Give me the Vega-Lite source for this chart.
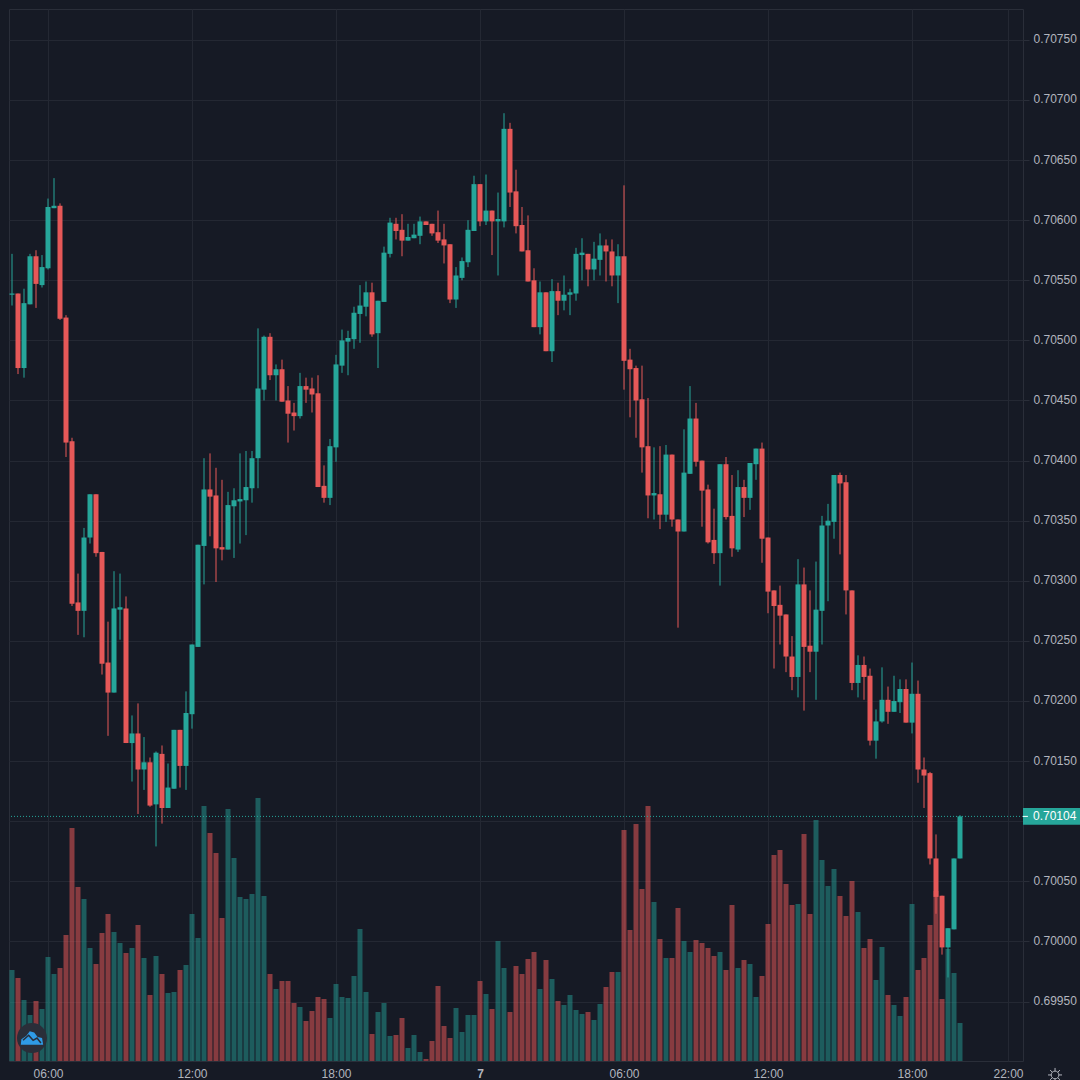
{"$schema":"https://vega.github.io/schema/vega-lite/v6.json","width":1014,"height":1052,"autosize":"none","padding":{"left":9,"top":9,"right":57,"bottom":19},"background":"#161a25","view":{"fill":"#161a25","stroke":"#2a2e39","strokeWidth":1},
"data":{"values":[
{"t":4.5,"o":0.70538,"h":0.70572,"l":0.70529,"c":0.70539,"v":91,"d":"up"},
{"t":4.75,"o":0.70539,"h":0.70539,"l":0.70472,"c":0.70477,"v":83,"d":"down"},
{"t":5,"o":0.70477,"h":0.70543,"l":0.70469,"c":0.70531,"v":61,"d":"up"},
{"t":5.25,"o":0.7053,"h":0.70572,"l":0.7053,"c":0.7057,"v":46,"d":"up"},
{"t":5.5,"o":0.7057,"h":0.70575,"l":0.70527,"c":0.70547,"v":60,"d":"down"},
{"t":5.75,"o":0.70546,"h":0.70571,"l":0.70544,"c":0.70561,"v":52,"d":"up"},
{"t":6,"o":0.7056,"h":0.70618,"l":0.70559,"c":0.70611,"v":104,"d":"up"},
{"t":6.25,"o":0.7061,"h":0.70635,"l":0.7061,"c":0.70612,"v":87,"d":"up"},
{"t":6.5,"o":0.70612,"h":0.70614,"l":0.70517,"c":0.70518,"v":93,"d":"down"},
{"t":6.75,"o":0.70519,"h":0.70521,"l":0.70403,"c":0.70415,"v":126,"d":"down"},
{"t":7,"o":0.70416,"h":0.70419,"l":0.70279,"c":0.70281,"v":233,"d":"down"},
{"t":7.25,"o":0.70282,"h":0.70306,"l":0.70255,"c":0.70275,"v":174,"d":"down"},
{"t":7.5,"o":0.70275,"h":0.70344,"l":0.70253,"c":0.70336,"v":162,"d":"up"},
{"t":7.75,"o":0.70336,"h":0.70372,"l":0.70331,"c":0.70372,"v":113,"d":"up"},
{"t":8,"o":0.70372,"h":0.70372,"l":0.7032,"c":0.70323,"v":97,"d":"down"},
{"t":8.25,"o":0.70324,"h":0.70324,"l":0.70222,"c":0.70231,"v":128,"d":"down"},
{"t":8.5,"o":0.70232,"h":0.70266,"l":0.70171,"c":0.70207,"v":147,"d":"down"},
{"t":8.75,"o":0.70207,"h":0.70308,"l":0.70207,"c":0.70277,"v":129,"d":"up"},
{"t":9,"o":0.70276,"h":0.70306,"l":0.70251,"c":0.70278,"v":118,"d":"up"},
{"t":9.25,"o":0.70277,"h":0.70287,"l":0.70165,"c":0.70165,"v":108,"d":"down"},
{"t":9.5,"o":0.70165,"h":0.70188,"l":0.70133,"c":0.70173,"v":113,"d":"up"},
{"t":9.75,"o":0.70173,"h":0.70198,"l":0.70106,"c":0.70143,"v":136,"d":"down"},
{"t":10,"o":0.70143,"h":0.7017,"l":0.70126,"c":0.70149,"v":103,"d":"up"},
{"t":10.25,"o":0.70149,"h":0.70153,"l":0.70112,"c":0.70113,"v":66,"d":"down"},
{"t":10.5,"o":0.70114,"h":0.70158,"l":0.70079,"c":0.70157,"v":105,"d":"up"},
{"t":10.75,"o":0.70156,"h":0.70163,"l":0.70098,"c":0.70111,"v":87,"d":"down"},
{"t":11,"o":0.70111,"h":0.70148,"l":0.70111,"c":0.70128,"v":68,"d":"up"},
{"t":11.25,"o":0.70127,"h":0.70176,"l":0.70127,"c":0.70176,"v":69,"d":"up"},
{"t":11.5,"o":0.70176,"h":0.70176,"l":0.70128,"c":0.70146,"v":91,"d":"down"},
{"t":11.75,"o":0.70146,"h":0.70208,"l":0.70126,"c":0.7019,"v":96,"d":"up"},
{"t":12,"o":0.70189,"h":0.70247,"l":0.70177,"c":0.70247,"v":147,"d":"up"},
{"t":12.25,"o":0.70245,"h":0.7033,"l":0.70245,"c":0.7033,"v":123,"d":"up"},
{"t":12.5,"o":0.70329,"h":0.70402,"l":0.70297,"c":0.70376,"v":255,"d":"up"},
{"t":12.75,"o":0.70376,"h":0.70406,"l":0.70337,"c":0.7037,"v":228,"d":"down"},
{"t":13,"o":0.70371,"h":0.70394,"l":0.70299,"c":0.70327,"v":208,"d":"down"},
{"t":13.25,"o":0.70328,"h":0.70384,"l":0.70317,"c":0.70326,"v":143,"d":"down"},
{"t":13.5,"o":0.70326,"h":0.70374,"l":0.70326,"c":0.70363,"v":252,"d":"up"},
{"t":13.75,"o":0.70362,"h":0.70377,"l":0.70319,"c":0.70367,"v":203,"d":"up"},
{"t":14,"o":0.70366,"h":0.70406,"l":0.70331,"c":0.70368,"v":164,"d":"up"},
{"t":14.25,"o":0.70367,"h":0.70408,"l":0.70338,"c":0.70378,"v":162,"d":"up"},
{"t":14.5,"o":0.70377,"h":0.70408,"l":0.70365,"c":0.70402,"v":167,"d":"up"},
{"t":14.75,"o":0.70402,"h":0.7051,"l":0.70377,"c":0.7046,"v":263,"d":"up"},
{"t":15,"o":0.70459,"h":0.70504,"l":0.7045,"c":0.70503,"v":165,"d":"up"},
{"t":15.25,"o":0.70503,"h":0.70506,"l":0.70467,"c":0.70471,"v":87,"d":"down"},
{"t":15.5,"o":0.70471,"h":0.7048,"l":0.7045,"c":0.70476,"v":72,"d":"up"},
{"t":15.75,"o":0.70476,"h":0.70484,"l":0.70449,"c":0.70449,"v":80,"d":"down"},
{"t":16,"o":0.7045,"h":0.70462,"l":0.70415,"c":0.70439,"v":80,"d":"down"},
{"t":16.25,"o":0.7044,"h":0.70448,"l":0.70425,"c":0.70437,"v":58,"d":"down"},
{"t":16.5,"o":0.70437,"h":0.70473,"l":0.70435,"c":0.70462,"v":54,"d":"up"},
{"t":16.75,"o":0.70462,"h":0.70469,"l":0.70448,"c":0.70459,"v":40,"d":"down"},
{"t":17,"o":0.7046,"h":0.70469,"l":0.7044,"c":0.70455,"v":50,"d":"down"},
{"t":17.25,"o":0.70456,"h":0.70471,"l":0.70378,"c":0.70378,"v":64,"d":"down"},
{"t":17.5,"o":0.70379,"h":0.70396,"l":0.70365,"c":0.70369,"v":62,"d":"down"},
{"t":17.75,"o":0.70369,"h":0.70418,"l":0.70363,"c":0.70412,"v":43,"d":"up"},
{"t":18,"o":0.70411,"h":0.70488,"l":0.70399,"c":0.7048,"v":77,"d":"up"},
{"t":18.25,"o":0.70479,"h":0.70509,"l":0.70473,"c":0.705,"v":64,"d":"up"},
{"t":18.5,"o":0.70499,"h":0.70508,"l":0.70471,"c":0.70502,"v":63,"d":"up"},
{"t":18.75,"o":0.70501,"h":0.70528,"l":0.70493,"c":0.70523,"v":85,"d":"up"},
{"t":19,"o":0.70522,"h":0.70546,"l":0.70498,"c":0.70529,"v":132,"d":"up"},
{"t":19.25,"o":0.70528,"h":0.70549,"l":0.7052,"c":0.7054,"v":69,"d":"up"},
{"t":19.5,"o":0.7054,"h":0.70548,"l":0.70503,"c":0.70505,"v":27,"d":"down"},
{"t":19.75,"o":0.70506,"h":0.70533,"l":0.70477,"c":0.70533,"v":49,"d":"up"},
{"t":20,"o":0.70532,"h":0.70578,"l":0.70532,"c":0.70573,"v":58,"d":"up"},
{"t":20.25,"o":0.70572,"h":0.70602,"l":0.70569,"c":0.70598,"v":25,"d":"up"},
{"t":20.5,"o":0.70597,"h":0.70602,"l":0.70584,"c":0.70591,"v":26,"d":"down"},
{"t":20.75,"o":0.70592,"h":0.70605,"l":0.7057,"c":0.70583,"v":43,"d":"down"},
{"t":21,"o":0.70583,"h":0.70597,"l":0.70583,"c":0.70586,"v":13,"d":"up"},
{"t":21.25,"o":0.70585,"h":0.70597,"l":0.70585,"c":0.70588,"v":26,"d":"up"},
{"t":21.5,"o":0.70587,"h":0.70603,"l":0.7058,"c":0.70599,"v":9,"d":"up"},
{"t":21.75,"o":0.70599,"h":0.70599,"l":0.70596,"c":0.70596,"v":2,"d":"down"},
{"t":22,"o":0.70597,"h":0.70597,"l":0.70587,"c":0.70589,"v":20,"d":"down"},
{"t":22.25,"o":0.7059,"h":0.70608,"l":0.70581,"c":0.70583,"v":75,"d":"down"},
{"t":22.5,"o":0.70584,"h":0.70597,"l":0.70564,"c":0.70579,"v":35,"d":"down"},
{"t":22.75,"o":0.7058,"h":0.7058,"l":0.70531,"c":0.70534,"v":23,"d":"down"},
{"t":23,"o":0.70534,"h":0.70561,"l":0.70527,"c":0.70554,"v":53,"d":"up"},
{"t":23.25,"o":0.70552,"h":0.70569,"l":0.7055,"c":0.70566,"v":29,"d":"up"},
{"t":23.5,"o":0.70565,"h":0.706,"l":0.70561,"c":0.70592,"v":46,"d":"up"},
{"t":23.75,"o":0.70591,"h":0.70637,"l":0.70591,"c":0.7063,"v":46,"d":"up"},
{"t":24,"o":0.7063,"h":0.7063,"l":0.70595,"c":0.70599,"v":80,"d":"down"},
{"t":24.25,"o":0.70599,"h":0.70638,"l":0.70596,"c":0.70608,"v":67,"d":"up"},
{"t":24.5,"o":0.70608,"h":0.70608,"l":0.70571,"c":0.70599,"v":52,"d":"down"},
{"t":24.75,"o":0.70599,"h":0.70623,"l":0.70554,"c":0.70601,"v":120,"d":"up"},
{"t":25,"o":0.70599,"h":0.70689,"l":0.70594,"c":0.70676,"v":93,"d":"up"},
{"t":25.25,"o":0.70676,"h":0.70681,"l":0.70611,"c":0.70623,"v":49,"d":"down"},
{"t":25.5,"o":0.70624,"h":0.70642,"l":0.70589,"c":0.70595,"v":95,"d":"down"},
{"t":25.75,"o":0.70596,"h":0.70611,"l":0.70574,"c":0.70574,"v":87,"d":"down"},
{"t":26,"o":0.70575,"h":0.70604,"l":0.70549,"c":0.70549,"v":102,"d":"down"},
{"t":26.25,"o":0.7055,"h":0.7056,"l":0.70511,"c":0.70511,"v":109,"d":"down"},
{"t":26.5,"o":0.70511,"h":0.70549,"l":0.70505,"c":0.7054,"v":72,"d":"up"},
{"t":26.75,"o":0.7054,"h":0.7054,"l":0.70491,"c":0.70491,"v":101,"d":"down"},
{"t":27,"o":0.70491,"h":0.70551,"l":0.70482,"c":0.70541,"v":82,"d":"up"},
{"t":27.25,"o":0.70541,"h":0.70548,"l":0.70521,"c":0.70533,"v":60,"d":"down"},
{"t":27.5,"o":0.70533,"h":0.70554,"l":0.70525,"c":0.70538,"v":56,"d":"up"},
{"t":27.75,"o":0.70538,"h":0.70543,"l":0.70521,"c":0.7054,"v":66,"d":"up"},
{"t":28,"o":0.70539,"h":0.70577,"l":0.70533,"c":0.70572,"v":51,"d":"up"},
{"t":28.25,"o":0.70571,"h":0.70585,"l":0.7055,"c":0.70573,"v":47,"d":"up"},
{"t":28.5,"o":0.70572,"h":0.70572,"l":0.70545,"c":0.70559,"v":49,"d":"down"},
{"t":28.75,"o":0.70559,"h":0.70582,"l":0.7055,"c":0.70568,"v":41,"d":"up"},
{"t":29,"o":0.70567,"h":0.70589,"l":0.70554,"c":0.70579,"v":57,"d":"up"},
{"t":29.25,"o":0.70579,"h":0.70584,"l":0.70549,"c":0.70574,"v":74,"d":"down"},
{"t":29.5,"o":0.70574,"h":0.70584,"l":0.70545,"c":0.70554,"v":89,"d":"down"},
{"t":29.75,"o":0.70554,"h":0.7058,"l":0.70531,"c":0.7057,"v":89,"d":"up"},
{"t":30,"o":0.7057,"h":0.70629,"l":0.70459,"c":0.70483,"v":231,"d":"down"},
{"t":30.25,"o":0.70484,"h":0.70493,"l":0.70436,"c":0.70476,"v":131,"d":"down"},
{"t":30.5,"o":0.70477,"h":0.70479,"l":0.70419,"c":0.7045,"v":237,"d":"down"},
{"t":30.75,"o":0.70451,"h":0.70479,"l":0.7039,"c":0.70411,"v":172,"d":"down"},
{"t":31,"o":0.70412,"h":0.70452,"l":0.70352,"c":0.70371,"v":255,"d":"down"},
{"t":31.25,"o":0.70371,"h":0.70411,"l":0.70351,"c":0.70373,"v":159,"d":"up"},
{"t":31.5,"o":0.70372,"h":0.70412,"l":0.70343,"c":0.70355,"v":122,"d":"down"},
{"t":31.75,"o":0.70355,"h":0.70413,"l":0.70349,"c":0.70405,"v":103,"d":"up"},
{"t":32,"o":0.70405,"h":0.70405,"l":0.70345,"c":0.70351,"v":103,"d":"down"},
{"t":32.25,"o":0.70351,"h":0.70351,"l":0.70261,"c":0.70341,"v":153,"d":"down"},
{"t":32.5,"o":0.70341,"h":0.70426,"l":0.70341,"c":0.7039,"v":120,"d":"up"},
{"t":32.75,"o":0.70389,"h":0.70462,"l":0.70389,"c":0.70435,"v":109,"d":"up"},
{"t":33,"o":0.70435,"h":0.70448,"l":0.70395,"c":0.70399,"v":121,"d":"down"},
{"t":33.25,"o":0.704,"h":0.704,"l":0.70345,"c":0.70375,"v":118,"d":"down"},
{"t":33.5,"o":0.70376,"h":0.7038,"l":0.70331,"c":0.70332,"v":113,"d":"down"},
{"t":33.75,"o":0.70334,"h":0.7036,"l":0.70314,"c":0.70323,"v":105,"d":"down"},
{"t":34,"o":0.70323,"h":0.70397,"l":0.70296,"c":0.70397,"v":109,"d":"up"},
{"t":34.25,"o":0.70397,"h":0.70403,"l":0.70351,"c":0.70353,"v":91,"d":"down"},
{"t":34.5,"o":0.70354,"h":0.70388,"l":0.7032,"c":0.70327,"v":156,"d":"down"},
{"t":34.75,"o":0.70326,"h":0.70392,"l":0.70324,"c":0.70378,"v":93,"d":"up"},
{"t":35,"o":0.70378,"h":0.70384,"l":0.70353,"c":0.70369,"v":101,"d":"down"},
{"t":35.25,"o":0.70369,"h":0.70398,"l":0.70359,"c":0.70398,"v":97,"d":"up"},
{"t":35.5,"o":0.70397,"h":0.7041,"l":0.70384,"c":0.7041,"v":64,"d":"up"},
{"t":35.75,"o":0.7041,"h":0.70415,"l":0.70315,"c":0.70335,"v":85,"d":"down"},
{"t":36,"o":0.70336,"h":0.70336,"l":0.70273,"c":0.70291,"v":137,"d":"down"},
{"t":36.25,"o":0.70292,"h":0.70292,"l":0.70227,"c":0.70279,"v":206,"d":"down"},
{"t":36.5,"o":0.7028,"h":0.70296,"l":0.70247,"c":0.70271,"v":211,"d":"down"},
{"t":36.75,"o":0.70272,"h":0.70272,"l":0.70224,"c":0.70237,"v":177,"d":"down"},
{"t":37,"o":0.70237,"h":0.70254,"l":0.70209,"c":0.7022,"v":156,"d":"down"},
{"t":37.25,"o":0.7022,"h":0.70318,"l":0.70203,"c":0.70297,"v":157,"d":"up"},
{"t":37.5,"o":0.70297,"h":0.70311,"l":0.70192,"c":0.70245,"v":227,"d":"down"},
{"t":37.75,"o":0.70246,"h":0.70292,"l":0.70224,"c":0.70241,"v":147,"d":"down"},
{"t":38,"o":0.70241,"h":0.70316,"l":0.70201,"c":0.70276,"v":241,"d":"up"},
{"t":38.25,"o":0.70275,"h":0.70354,"l":0.70247,"c":0.70346,"v":201,"d":"up"},
{"t":38.5,"o":0.70346,"h":0.70364,"l":0.70283,"c":0.7035,"v":175,"d":"up"},
{"t":38.75,"o":0.70349,"h":0.70388,"l":0.70335,"c":0.70388,"v":192,"d":"up"},
{"t":39,"o":0.70388,"h":0.7039,"l":0.70322,"c":0.70381,"v":165,"d":"down"},
{"t":39.25,"o":0.70382,"h":0.70388,"l":0.70272,"c":0.70292,"v":145,"d":"down"},
{"t":39.5,"o":0.70292,"h":0.70292,"l":0.70209,"c":0.70215,"v":180,"d":"down"},
{"t":39.75,"o":0.70215,"h":0.70238,"l":0.70203,"c":0.7023,"v":149,"d":"up"},
{"t":40,"o":0.7023,"h":0.70237,"l":0.70201,"c":0.7022,"v":113,"d":"down"},
{"t":40.25,"o":0.70221,"h":0.70227,"l":0.70163,"c":0.70167,"v":122,"d":"down"},
{"t":40.5,"o":0.70167,"h":0.70193,"l":0.70152,"c":0.70183,"v":81,"d":"up"},
{"t":40.75,"o":0.70183,"h":0.70228,"l":0.70182,"c":0.70201,"v":114,"d":"up"},
{"t":41,"o":0.70201,"h":0.70212,"l":0.70181,"c":0.70191,"v":66,"d":"down"},
{"t":41.25,"o":0.70191,"h":0.70221,"l":0.70191,"c":0.702,"v":56,"d":"up"},
{"t":41.5,"o":0.70199,"h":0.70218,"l":0.7019,"c":0.7021,"v":45,"d":"up"},
{"t":41.75,"o":0.7021,"h":0.70218,"l":0.70182,"c":0.70182,"v":64,"d":"down"},
{"t":42,"o":0.70182,"h":0.70232,"l":0.70173,"c":0.70206,"v":157,"d":"up"},
{"t":42.25,"o":0.70206,"h":0.70217,"l":0.70132,"c":0.70143,"v":91,"d":"down"},
{"t":42.5,"o":0.70143,"h":0.70153,"l":0.70111,"c":0.70138,"v":103,"d":"down"},
{"t":42.75,"o":0.7014,"h":0.70141,"l":0.70064,"c":0.70069,"v":136,"d":"down"},
{"t":43,"o":0.70069,"h":0.70089,"l":0.70023,"c":0.70037,"v":170,"d":"down"},
{"t":43.25,"o":0.70038,"h":0.70038,"l":0.69989,"c":0.69995,"v":62,"d":"down"},
{"t":43.5,"o":0.69995,"h":0.70011,"l":0.6997,"c":0.70011,"v":112,"d":"up"},
{"t":43.75,"o":0.7001,"h":0.70069,"l":0.7001,"c":0.70069,"v":88,"d":"up"},
{"t":44,"o":0.70069,"h":0.70105,"l":0.70069,"c":0.70104,"v":38,"d":"up"}
]},
"resolve":{"scale":{"y":"independent"}},
"layer":[
{"mark":{"type":"bar","orient":"vertical","size":5},
"encoding":{
"x":{"field":"t","type":"quantitative","scale":{"domain":[4.375,46.625],"nice":false,"zero":false,"padding":0},"axis":{"values":[6,12,18,24,30,36,42,46],"title":null,"grid":true,"gridColor":"#242833","domain":false,"ticks":false,"labelPadding":7,"labelFont":"Liberation Sans","labelFontSize":12,"labelColor":"#b2b5be","labelFlush":false,"labelOverlap":false,"labelExpr":"datum.value==24?'7':((datum.value%24<10?'0':'')+(datum.value%24)+':00')","labelFontWeight":{"condition":{"test":"datum.value==24","value":"bold"},"value":"normal"}}},
"y":{"field":"v","type":"quantitative","stack":null,"scale":{"domain":[0,1052],"nice":false,"zero":true},"axis":null},
"color":{"field":"d","type":"nominal","scale":{"domain":["up","down"],"range":["#26a69a","#e65858"]},"legend":null},
"opacity":{"condition":{"test":"datum.d=='up'","value":0.48},"value":0.55}}},
{"data":{"values":[{"p":0.70104}]},"mark":{"type":"rule","color":"#26a69a","strokeDash":[1,2],"strokeWidth":1},
"encoding":{"y":{"field":"p","type":"quantitative","scale":{"domain":[0.699005,0.707757],"nice":false,"zero":false},"axis":{"orient":"right","title":null,"values":[0.6995,0.7,0.7005,0.701,0.7015,0.702,0.7025,0.703,0.7035,0.704,0.7045,0.705,0.7055,0.706,0.7065,0.707,0.7075],"labelExpr":"abs(datum.value-0.701)<0.00001?'':format(datum.value,'.5f')","grid":true,"gridColor":"#242833","domain":false,"tickColor":"#2a2e39","tickSize":6,"labelPadding":4,"labelOffset":-1,"labelFont":"Liberation Sans","labelFontSize":12,"labelColor":"#b2b5be"}}}},
{"mark":{"type":"rule","strokeWidth":1},
"encoding":{"x":{"field":"t","type":"quantitative","scale":{"domain":[4.375,46.625],"nice":false,"zero":false,"padding":0}},
"y":{"field":"h","type":"quantitative","scale":{"domain":[0.699005,0.707757],"nice":false,"zero":false},"axis":null},"y2":{"field":"l"},
"color":{"field":"d","type":"nominal","legend":null}}},
{"mark":{"type":"bar","orient":"vertical","size":5},
"encoding":{"x":{"field":"t","type":"quantitative","scale":{"domain":[4.375,46.625],"nice":false,"zero":false,"padding":0}},
"y":{"field":"o","type":"quantitative","scale":{"domain":[0.699005,0.707757],"nice":false,"zero":false},"axis":null},"y2":{"field":"c"},
"color":{"field":"d","type":"nominal","legend":null}}},
{"data":{"values":[{"t0":46.625,"t1":49,"p0":0.70097,"p1":0.70111}]},"mark":{"type":"rect","color":"#26a69a"},
"encoding":{"x":{"field":"t0","type":"quantitative","scale":{"domain":[4.375,46.625],"nice":false,"zero":false,"padding":0}},"x2":{"field":"t1"},"y":{"field":"p0","type":"quantitative","scale":{"domain":[0.699005,0.707757],"nice":false,"zero":false},"axis":null},"y2":{"field":"p1"}}},
{"data":{"values":[{"t0":46.625,"t1":46.83,"p":0.70104}]},"mark":{"type":"rule","color":"#ffffff","strokeWidth":1},
"encoding":{"x":{"field":"t0","type":"quantitative","scale":{"domain":[4.375,46.625],"nice":false,"zero":false,"padding":0}},"x2":{"field":"t1"},"y":{"field":"p","type":"quantitative","scale":{"domain":[0.699005,0.707757],"nice":false,"zero":false},"axis":null}}},
{"data":{"values":[{"t":47.04,"p":0.70104,"label":"0.70104"}]},"mark":{"type":"text","align":"left","baseline":"middle","font":"Liberation Sans","fontSize":12,"color":"#ffffff"},
"encoding":{"x":{"field":"t","type":"quantitative","scale":{"domain":[4.375,46.625],"nice":false,"zero":false,"padding":0}},"y":{"field":"p","type":"quantitative","scale":{"domain":[0.699005,0.707757],"nice":false,"zero":false},"axis":null},"text":{"field":"label"}}},
{"data":{"values":[{"t":5.333,"p":0.699196}]},"mark":{"type":"point","shape":"circle","filled":true,"size":900,"color":"#2a2e39","opacity":1},
"encoding":{"x":{"field":"t","type":"quantitative","scale":{"domain":[4.375,46.625],"nice":false,"zero":false,"padding":0}},"y":{"field":"p","type":"quantitative","scale":{"domain":[0.699005,0.707757],"nice":false,"zero":false},"axis":null}}},
{"data":{"values":[{"t":5.333,"p":0.699196}]},"mark":{"type":"point","shape":"M-1,0.6L-0.95,0.1L-0.5,-0.2L-0.2,-0.6L0.2,-0.5L0.5,-0.1L0.9,0L1,0.6Z","filled":true,"size":500,"color":"#2f9be6","opacity":1},
"encoding":{"x":{"field":"t","type":"quantitative","scale":{"domain":[4.375,46.625],"nice":false,"zero":false,"padding":0}},"y":{"field":"p","type":"quantitative","scale":{"domain":[0.699005,0.707757],"nice":false,"zero":false},"axis":null}}},
{"data":{"values":[{"t":5.333,"p":0.699196}]},"mark":{"type":"point","shape":"M-0.8,0.2L-0.3,-0.25L0.1,0.2L0.45,0L0.8,0.45","filled":false,"size":500,"stroke":"#2a2e39","strokeWidth":1.5,"opacity":1},
"encoding":{"x":{"field":"t","type":"quantitative","scale":{"domain":[4.375,46.625],"nice":false,"zero":false,"padding":0}},"y":{"field":"p","type":"quantitative","scale":{"domain":[0.699005,0.707757],"nice":false,"zero":false},"axis":null}}},
{"data":{"values":[{"t":47.96,"p":0.698889}]},"mark":{"type":"point","shape":"M-0.55,0A0.55,0.55 0 1,1 0.55,0A0.55,0.55 0 1,1 -0.55,0ZM0,-1L0,-0.55M0,1L0,0.55M-1,0L-0.55,0M1,0L0.55,0M-0.7,-0.7L-0.4,-0.4M0.7,-0.7L0.4,-0.4M-0.7,0.7L-0.4,0.4M0.7,0.7L0.4,0.4","filled":false,"size":196,"stroke":"#b2b5be","strokeWidth":1,"opacity":1},
"encoding":{"x":{"field":"t","type":"quantitative","scale":{"domain":[4.375,46.625],"nice":false,"zero":false,"padding":0}},"y":{"field":"p","type":"quantitative","scale":{"domain":[0.699005,0.707757],"nice":false,"zero":false},"axis":null}}}
]}
